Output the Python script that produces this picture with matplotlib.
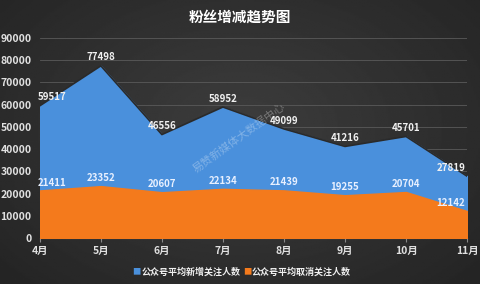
import numpy as np
import matplotlib.pyplot as plt

plt.rcParams['font.family'] = ['Noto Sans CJK SC', 'DejaVu Sans']

months = ['4月', '5月', '6月', '7月', '8月', '9月', '10月', '11月']
new_follow = [59517, 77498, 46556, 58952, 49099, 41216, 45701, 27819]
cancel_follow = [21411, 23352, 20607, 22134, 21439, 19255, 20704, 12142]

fig = plt.figure(figsize=(4.8, 2.84), dpi=100)

# dark gradient background
bg = fig.add_axes([0, 0, 1, 1])
yy, xx = np.mgrid[0:1:200j, 0:1:300j]
r = np.sqrt(((xx - 0.5) / 0.7) ** 2 + ((yy - 0.45) / 0.8) ** 2)
bg.imshow(0.24 - 0.1 * r, cmap='gray', vmin=0, vmax=1, aspect='auto', extent=[0, 1, 0, 1])
bg.axis('off')

ax = fig.add_axes([0.083, 0.162, 0.89, 0.704])
ax.set_facecolor('none')
x = np.arange(len(months))

ax.fill_between(x, new_follow, color='#4a90dc', zorder=2)
ax.plot(x, new_follow, color='#2a2a2a', lw=1.2, zorder=2)
ax.fill_between(x, cancel_follow, color='#f47a1c', zorder=3)

n = len(months)
for i in range(n):
    if i == 0:
        xpos, ha = x[i] - 0.03, 'left'
    elif i == n - 1:
        xpos, ha = x[i] - 0.03, 'right'
    else:
        xpos, ha = x[i], 'center'
    ax.text(xpos, new_follow[i] + 1500, str(new_follow[i]), color='#f0f0f0',
            fontsize=7, fontweight='bold', ha=ha, va='bottom', zorder=5)
    ax.text(xpos, cancel_follow[i] + 1300, str(cancel_follow[i]), color='#e8f0ff',
            fontsize=7, fontweight='bold', ha=ha, va='bottom', zorder=5)

ax.text(3.26, 45000, '易赞新媒体大数据中心', color='white', alpha=0.3, fontsize=8,
        rotation=36, ha='center', va='center', zorder=4)

ax.set_xlim(0, 7)
ax.set_ylim(0, 90000)
ax.set_yticks(range(0, 90001, 10000))
ax.set_xticks(x)
ax.set_xticklabels(months)
ax.grid(axis='y', color='#5a5a5a', lw=0.6, zorder=1)
ax.set_axisbelow(True)
for s in ['top', 'right', 'left']:
    ax.spines[s].set_visible(False)
ax.spines['bottom'].set_color('#888888')
ax.tick_params(axis='y', length=0, colors='#e0e0e0', labelsize=7.5, pad=6)
ax.tick_params(axis='x', length=3, color='#888888', colors='#e0e0e0', labelsize=7.5, pad=3)
for lbl in ax.get_xticklabels() + ax.get_yticklabels():
    lbl.set_fontweight('bold')

fig.text(0.5, 0.94, '粉丝增减趋势图', color='white', fontsize=10.5, fontweight='bold',
         ha='center', va='center')

fig.text(0.275, 0.042, '■', color='#4a90dc', fontsize=6, ha='left', va='center')
fig.text(0.295, 0.042, '公众号平均新增关注人数', color='#f0f0f0', fontsize=6.5,
         fontweight='bold', ha='left', va='center')
fig.text(0.507, 0.042, '■', color='#f47a1c', fontsize=6, ha='left', va='center')
fig.text(0.525, 0.042, '公众号平均取消关注人数', color='#f0f0f0', fontsize=6.5,
         fontweight='bold', ha='left', va='center')

fig.savefig('out.png', dpi=100)
